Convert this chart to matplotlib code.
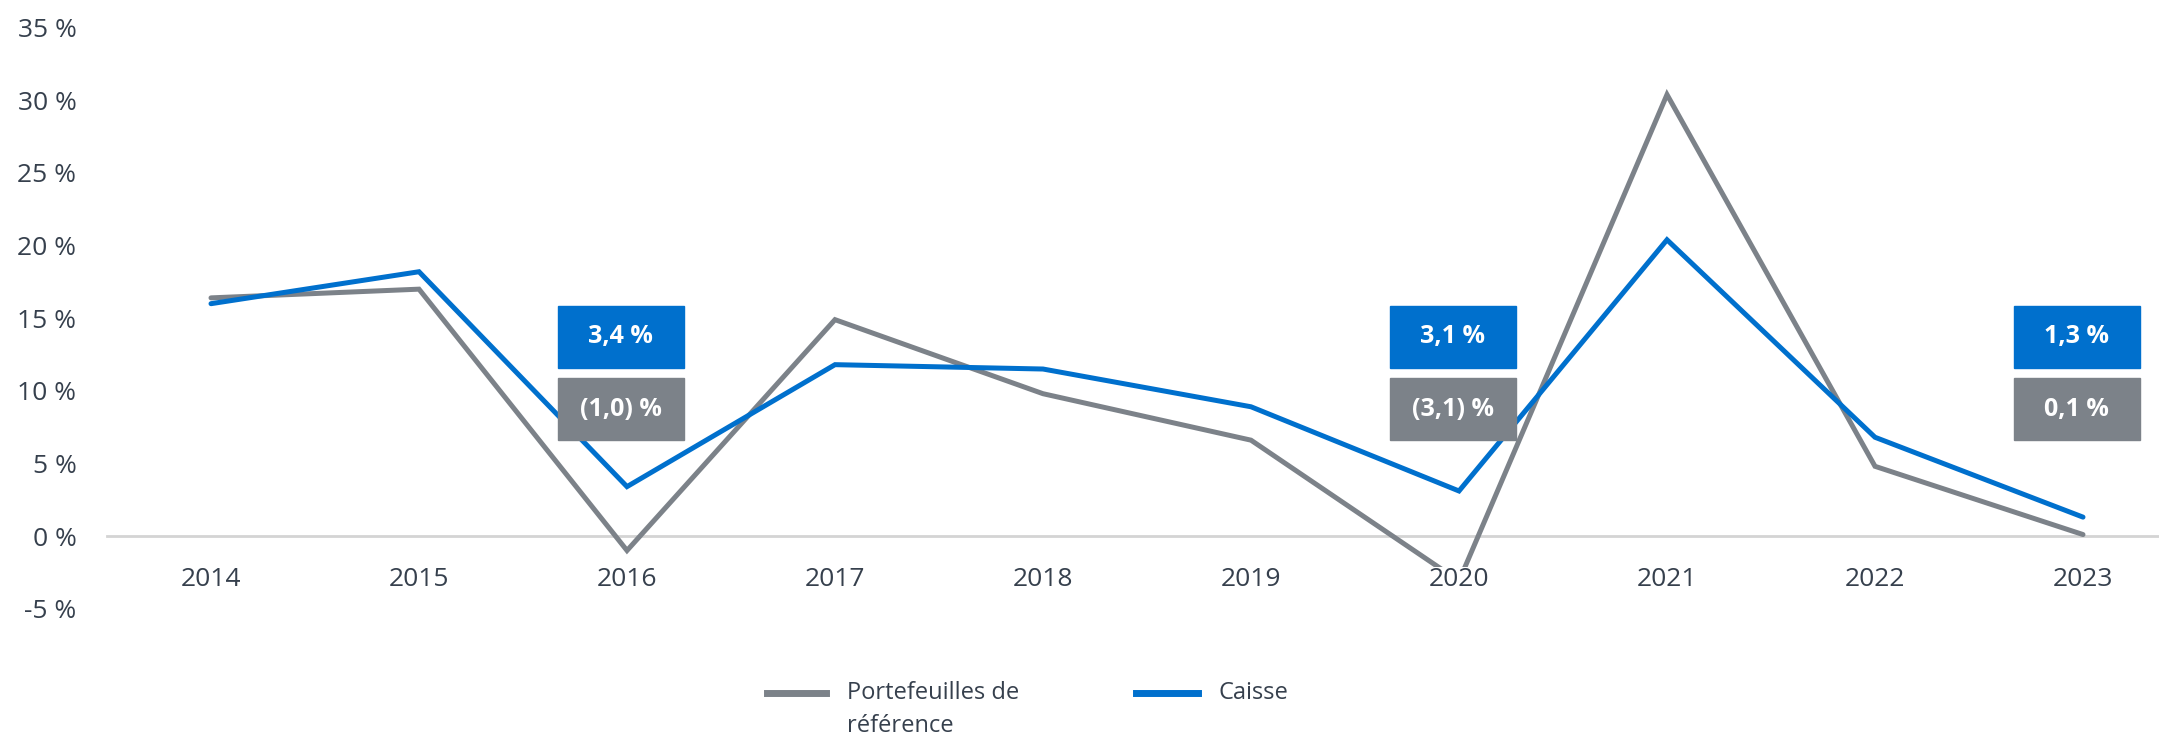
import matplotlib
matplotlib.use("Agg")
import matplotlib.pyplot as plt
from matplotlib.patches import Rectangle
from matplotlib.lines import Line2D

# données
annees = [2014, 2015, 2016, 2017, 2018, 2019, 2020, 2021, 2022, 2023]
reference = [16.4, 17.0, -1.0, 14.9, 9.8, 6.6, -3.1, 30.4, 4.8, 0.1]
caisse = [16.0, 18.2, 3.4, 11.8, 11.5, 8.9, 3.1, 20.4, 6.8, 1.3]
annees_boites = [2016, 2020, 2023]
yticks = [-5, 0, 5, 10, 15, 20, 25, 30, 35]

bleu = "#0070CD"
gris = "#7C8289"
texte = "#36404D"

plt.rcParams["font.family"] = ["Open Sans", "DejaVu Sans"]


def fmt(v):
    s = f"{abs(v):.1f}".replace(".", ",")
    return f"({s}) %" if v < 0 else f"{s} %"


fig = plt.figure(figsize=(21.59, 7.35), dpi=100)
W, H = 2159, 735
# axes: x de 2013.5 a 2023.5 -> pixels 107 a 2187 ; y de -5 a 35 -> pixels 608.6 a 27.8
x0, x1 = 107, 2187
y0, y1 = 608.6, 27.8
ax = fig.add_axes([x0 / W, 1 - y0 / H, (x1 - x0) / W, (y0 - y1) / H])
ax.set_xlim(2013.5, 2023.5)
ax.set_ylim(-5, 35)

ax.axhline(0, color="#D4D4D4", lw=2, zorder=1, clip_on=False)

ax.plot(annees, reference, color=gris, lw=3.6, solid_capstyle="round",
        solid_joinstyle="miter", zorder=3)
ax.plot(annees, caisse, color=bleu, lw=3.6, solid_capstyle="round",
        solid_joinstyle="miter", zorder=4)

# boîtes de valeurs
for a in annees_boites:
    i = annees.index(a)
    cx = a - 0.03
    w = 0.606
    ax.add_patch(Rectangle((cx - w / 2, 11.6), w, 4.27, color=bleu, zorder=5))
    ax.text(cx, 11.6 + 4.27 / 2, fmt(caisse[i]), color="white", fontsize=18,
            fontweight="bold", ha="center", va="center", zorder=6)
    ax.add_patch(Rectangle((cx - w / 2, 6.6), w, 4.27, color=gris, zorder=5))
    ax.text(cx, 6.6 + 4.27 / 2, fmt(reference[i]), color="white", fontsize=18,
            fontweight="bold", ha="center", va="center", zorder=6)

ax.spines["bottom"].set_position(("data", 0))
for s in ax.spines.values():
    s.set_visible(False)
ax.set_xticks(annees)
ax.set_xticklabels([str(a) for a in annees])
ax.set_yticks(yticks)
ax.set_yticklabels([f"{t} %" for t in yticks])
ax.tick_params(axis="both", length=0, labelsize=19, labelcolor=texte)
ax.tick_params(axis="x", pad=22)
ax.tick_params(axis="y", pad=22)
ax.xaxis.set_zorder(7)
for lab in ax.get_xticklabels():
    lab.set_bbox(dict(facecolor="white", edgecolor="none", pad=0))

# légende
def pix(x, y):
    return x / W, 1 - y / H

for (xa, xb, xt), couleur, lignes in [
    ((767, 826, 847), gris, ["Portefeuilles de", "référence"]),
    ((1136, 1198, 1219), bleu, ["Caisse"]),
]:
    fig.add_artist(Line2D([xa / W, xb / W], [1 - 693 / H, 1 - 693 / H],
                          color=couleur, lw=5, transform=fig.transFigure))
    for k, t in enumerate(lignes):
        fig.text(*pix(xt, 693 + 33 * k), t, fontsize=17, color=texte,
                 ha="left", va="center")

fig.savefig("out.png", dpi=100)
